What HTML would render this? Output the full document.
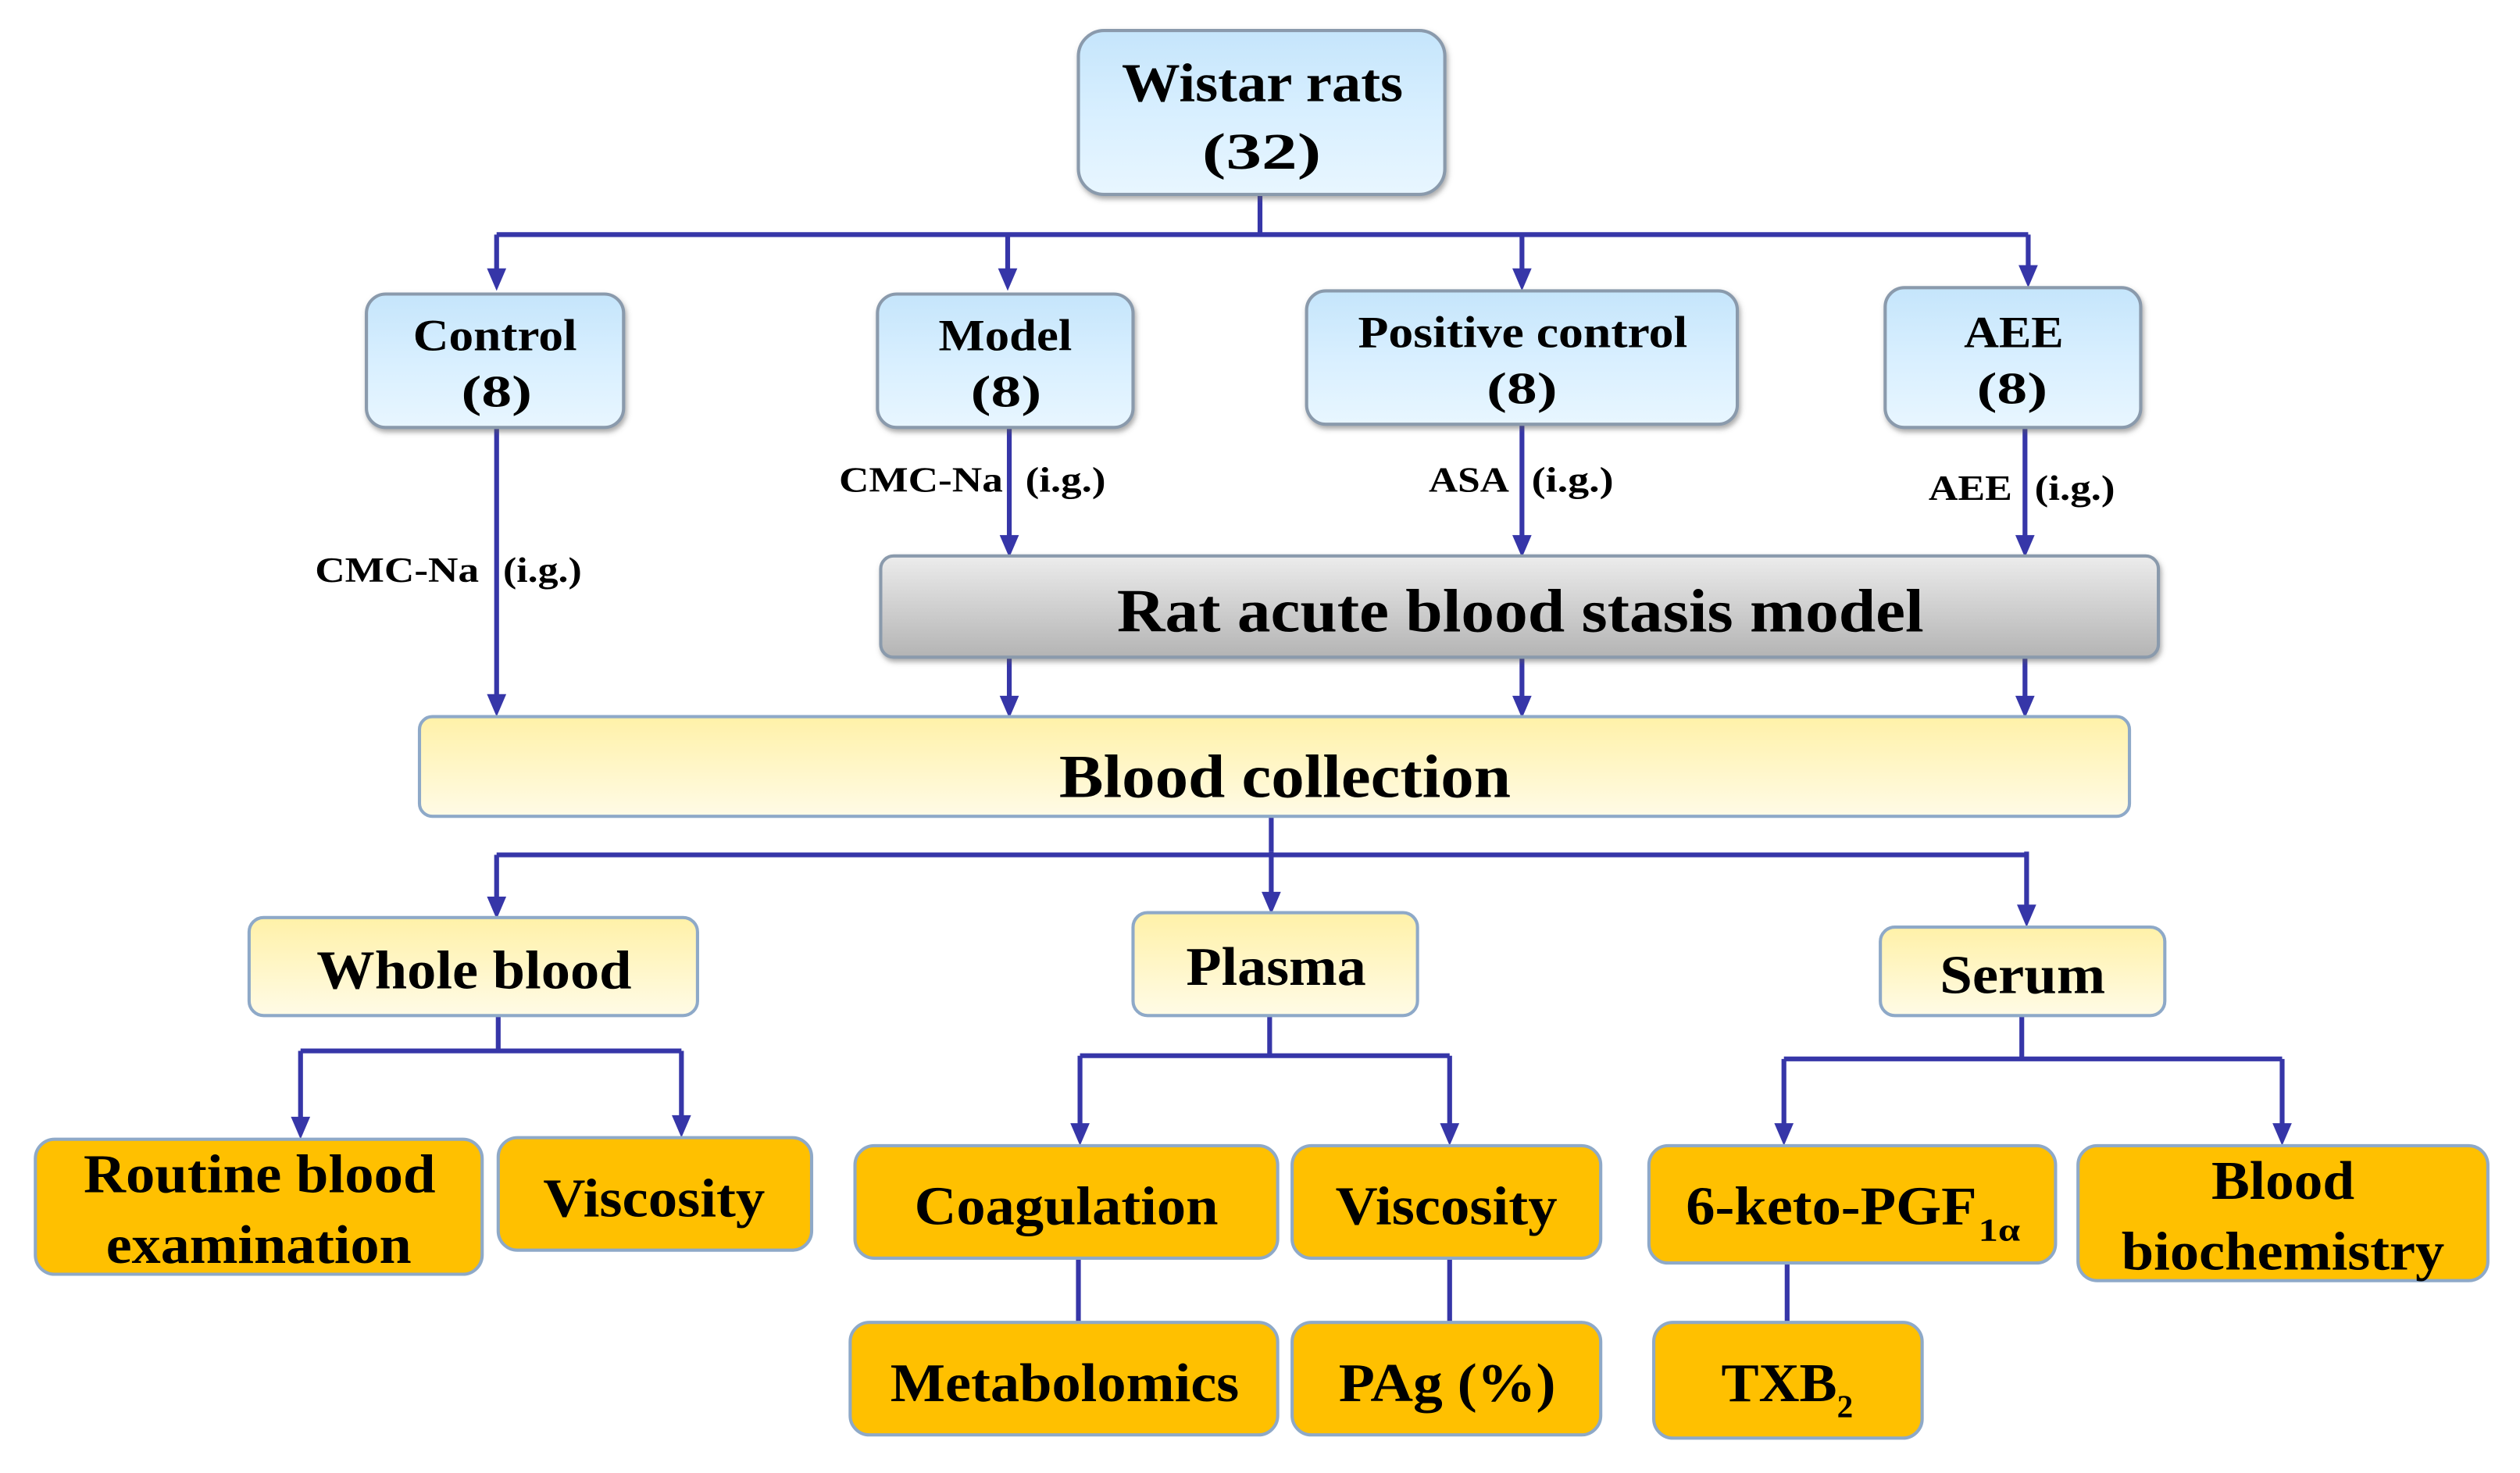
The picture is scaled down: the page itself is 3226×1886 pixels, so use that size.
<!DOCTYPE html>
<html><head><meta charset="utf-8"><style>html,body{margin:0;padding:0;background:#fff}svg{display:block}svg text{font-family:"Liberation Serif",serif;font-weight:bold}</style></head><body>
<svg width="3226" height="1886" viewBox="0 0 1568 916.7" xmlns="http://www.w3.org/2000/svg">
<defs>
<linearGradient id="bl" x1="0" y1="0" x2="0" y2="1"><stop offset="0" stop-color="#c5e5fb"/><stop offset="0.5" stop-color="#d8efff"/><stop offset="1" stop-color="#e8f6ff"/></linearGradient>
<linearGradient id="gr" x1="0" y1="0" x2="0" y2="1"><stop offset="0" stop-color="#ececec"/><stop offset="1" stop-color="#b4b4b4"/></linearGradient>
<linearGradient id="yl" x1="0" y1="0" x2="0" y2="1"><stop offset="0" stop-color="#fff1a8"/><stop offset="1" stop-color="#fffbe6"/></linearGradient>
<filter id="sh" x="-10%" y="-10%" width="120%" height="130%"><feDropShadow dx="1" dy="2" stdDeviation="1.5" flood-color="#555" flood-opacity="0.5"/></filter>
<path id="ah" d="M-6,-14 L6,-14 L0,0 z" fill="#3636a8"/>
</defs>
<g stroke="#3636a8" stroke-width="3" fill="none">
<path d="M784,121 V146 M309,146 H1262"/>
<path d="M309,146 V175 M627,146 V175 M947,146 V175 M1262,146 V173"/>
<path d="M309,266 V440 M628,266 V341 M947,264 V341 M1260,266 V341"/>
<path d="M628,409 V441 M947,409 V441 M1260,409 V441"/>
<path d="M791,508 V530 M309,532 H1260"/>
<path d="M309,532 V566 M791,530 V563 M1261,530 V571"/>
<path d="M310,632 V654 M187,654 H424 M187,654 V703 M424,654 V702"/>
<path d="M790,632 V657 M672,657 H902 M672,657 V707 M902,657 V707"/>
<path d="M671,783 V823 M902,783 V823"/>
<path d="M1258,632 V659 M1110,659 H1420 M1110,659 V707 M1420,659 V707"/>
<path d="M1112,786 V823"/>
</g>
<g>
<use href="#ah" x="309" y="181"/><use href="#ah" x="627" y="181"/><use href="#ah" x="947" y="181"/><use href="#ah" x="1262" y="179"/>
<use href="#ah" x="309" y="446"/><use href="#ah" x="628" y="347"/><use href="#ah" x="947" y="347"/><use href="#ah" x="1260" y="347"/>
<use href="#ah" x="628" y="447"/><use href="#ah" x="947" y="447"/><use href="#ah" x="1260" y="447"/>
<use href="#ah" x="309" y="572"/><use href="#ah" x="791" y="569"/><use href="#ah" x="1261" y="577"/>
<use href="#ah" x="187" y="709"/><use href="#ah" x="424" y="708"/><use href="#ah" x="672" y="713"/><use href="#ah" x="902" y="713"/>
<use href="#ah" x="1110" y="713"/><use href="#ah" x="1420" y="713"/>
</g>
<g stroke="#8a9aac" stroke-width="2" fill="url(#bl)" filter="url(#sh)">
<rect x="671" y="19" width="228" height="102" rx="16"/>
<rect x="228" y="183" width="160" height="83" rx="12"/>
<rect x="546" y="183" width="159" height="83" rx="12"/>
<rect x="813" y="181" width="268" height="83" rx="12"/>
<rect x="1173" y="179" width="159" height="87" rx="12"/>
<rect x="548" y="346" width="795" height="63" rx="8" fill="url(#gr)"/>
</g>
<g stroke="#8ea9c8" stroke-width="2" fill="url(#yl)">
<rect x="261" y="446" width="1064" height="62" rx="8"/>
<rect x="155" y="571" width="279" height="61" rx="9"/>
<rect x="705" y="568" width="177" height="64" rx="9"/>
<rect x="1170" y="577" width="177" height="55" rx="9"/>
</g>
<g stroke="#8ea9c8" stroke-width="2" fill="#ffc000">
<rect x="22" y="709" width="278" height="84" rx="12"/>
<rect x="310" y="708" width="195" height="70" rx="12"/>
<rect x="532" y="713" width="263" height="70" rx="12"/>
<rect x="804" y="713" width="192" height="70" rx="12"/>
<rect x="529" y="823" width="266" height="70" rx="12"/>
<rect x="804" y="823" width="192" height="70" rx="12"/>
<rect x="1026" y="713" width="253" height="73" rx="12"/>
<rect x="1293" y="713" width="255" height="84" rx="12"/>
<rect x="1029" y="823" width="167" height="72" rx="12"/>
</g>
<g fill="#000">
<text x="698" y="63" font-size="34" textLength="175" lengthAdjust="spacingAndGlyphs">Wistar rats</text>
<text x="748" y="105" font-size="32" textLength="74" lengthAdjust="spacingAndGlyphs">(32)</text>
<text x="257" y="218" font-size="28" textLength="102" lengthAdjust="spacingAndGlyphs">Control</text>
<text x="287" y="253" font-size="28" textLength="44" lengthAdjust="spacingAndGlyphs">(8)</text>
<text x="584" y="218" font-size="28" textLength="83" lengthAdjust="spacingAndGlyphs">Model</text>
<text x="604" y="253" font-size="28" textLength="44" lengthAdjust="spacingAndGlyphs">(8)</text>
<text x="845" y="216" font-size="28" textLength="205" lengthAdjust="spacingAndGlyphs">Positive control</text>
<text x="925" y="251" font-size="28" textLength="44" lengthAdjust="spacingAndGlyphs">(8)</text>
<text x="1222" y="216" font-size="28" textLength="62" lengthAdjust="spacingAndGlyphs">AEE</text>
<text x="1230" y="251" font-size="28" textLength="44" lengthAdjust="spacingAndGlyphs">(8)</text>
<g font-size="22">
<text x="196" y="362" textLength="102" lengthAdjust="spacingAndGlyphs">CMC-Na</text><text x="313" y="362" textLength="49" lengthAdjust="spacingAndGlyphs">(i.g.)</text>
<text x="522" y="306" textLength="102" lengthAdjust="spacingAndGlyphs">CMC-Na</text><text x="638" y="306" textLength="50" lengthAdjust="spacingAndGlyphs">(i.g.)</text>
<text x="889" y="306" textLength="50" lengthAdjust="spacingAndGlyphs">ASA</text><text x="953" y="306" textLength="51" lengthAdjust="spacingAndGlyphs">(i.g.)</text>
<text x="1200" y="311" textLength="52" lengthAdjust="spacingAndGlyphs">AEE</text><text x="1266" y="311" textLength="50" lengthAdjust="spacingAndGlyphs">(i.g.)</text>
</g>
<text x="695" y="393" font-size="38" textLength="502" lengthAdjust="spacingAndGlyphs">Rat acute blood stasis model</text>
<text x="659" y="496" font-size="38" textLength="281" lengthAdjust="spacingAndGlyphs">Blood collection</text>
<text x="197" y="615" font-size="34" textLength="196" lengthAdjust="spacingAndGlyphs">Whole blood</text>
<text x="738" y="613" font-size="34" textLength="112" lengthAdjust="spacingAndGlyphs">Plasma</text>
<text x="1207" y="618" font-size="34" textLength="103" lengthAdjust="spacingAndGlyphs">Serum</text>
<g font-size="34">
<text x="52" y="742" textLength="219" lengthAdjust="spacingAndGlyphs">Routine blood</text>
<text x="66" y="786" textLength="190" lengthAdjust="spacingAndGlyphs">examination</text>
<text x="338" y="757" textLength="138" lengthAdjust="spacingAndGlyphs">Viscosity</text>
<text x="569" y="762" textLength="189" lengthAdjust="spacingAndGlyphs">Coagulation</text>
<text x="831" y="762" textLength="138" lengthAdjust="spacingAndGlyphs">Viscosity</text>
<text x="554" y="872" textLength="217" lengthAdjust="spacingAndGlyphs">Metabolomics</text>
<text x="833" y="872" textLength="135" lengthAdjust="spacingAndGlyphs">PAg (%)</text>
<text x="1049" y="762" textLength="181" lengthAdjust="spacingAndGlyphs">6-keto-PGF</text>
<text x="1376" y="746" textLength="89" lengthAdjust="spacingAndGlyphs">Blood</text>
<text x="1320" y="790" textLength="201" lengthAdjust="spacingAndGlyphs">biochemistry</text>
<text x="1071" y="872" textLength="72" lengthAdjust="spacingAndGlyphs">TXB</text>
</g>
<text x="1231" y="772" font-size="20" textLength="26" lengthAdjust="spacingAndGlyphs">1α</text>
<text x="1143" y="882" font-size="20">2</text>
</g>
</svg>
</body></html>
